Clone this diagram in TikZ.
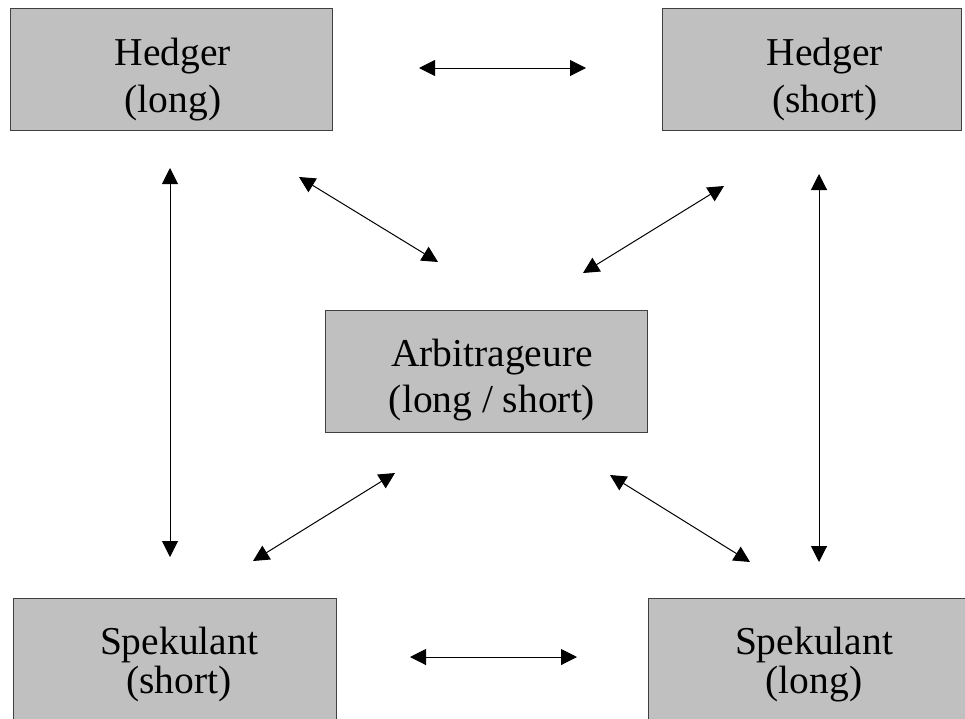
\documentclass[tikz,border=0pt]{standalone}
\usepackage{fontspec}
\setmainfont{Liberation Serif}
\usetikzlibrary{arrows.meta}
\definecolor{boxfill}{HTML}{C0C0C0}
\definecolor{boxline}{HTML}{404040}
\begin{document}
\begin{tikzpicture}[x=1pt,y=-1pt,
  box/.style={draw=boxline, fill=boxfill, line width=1pt, inner sep=0pt, minimum height=122pt},
  lbl/.style={align=center, inner sep=0pt, anchor=base, font=\fontsize{39.5}{47}\selectfont},
  lblb/.style={align=center, inner sep=0pt, anchor=base, font=\fontsize{39.5}{39}\selectfont},
  link/.style={line width=1pt, {Triangle[length=16pt,width=16pt]}-{Triangle[length=16pt,width=16pt]}}]
\useasboundingbox (0,0) rectangle (965,718);
\clip (0,0) rectangle (965,718);
% boxes
\node[box, minimum width=322pt] (hl) at (171,69.5) {};
\node[box, minimum width=299pt] (hs) at (811.5,69) {};
\node[box, minimum width=322pt] (ar) at (486,371) {};
\node[box, minimum width=323pt] (sl) at (174.5,659) {};
\node[box, minimum width=327pt] (sr) at (811.5,659) {};
% texts (anchor base = baseline of last line)
\node[lbl] (hlt) at (173,112) {Hedger\\(long)};
\node[lbl] (hst) at (825,112) {Hedger\\(short)};
\node[lbl,font=\fontsize{39.5}{46}\selectfont] (art) at (492,412) {Arbitrageure\\(long / short)};
\node[lblb] (slt) at (179,693) {Spekulant\\(short)};
\node[lblb] (srt) at (814,693) {Spekulant\\(long)};
% arrow endpoints
\coordinate (t1) at (419,68);  \coordinate (t2) at (586,68);
\coordinate (b1) at (410,657); \coordinate (b2) at (577,657);
\coordinate (l1) at (170,168); \coordinate (l2) at (170,557);
\coordinate (r1) at (819,174); \coordinate (r2) at (819,562);
\coordinate (d1) at (299,177); \coordinate (d2) at (438,262);
\coordinate (e1) at (724,186); \coordinate (e2) at (583,273);
\coordinate (f1) at (395,473); \coordinate (f2) at (253,561);
\coordinate (g1) at (610,475); \coordinate (g2) at (750,562);
\draw[link] (t1) -- (t2);
\draw[link] (b1) -- (b2);
\draw[link] (l1) -- (l2);
\draw[link] (r1) -- (r2);
\draw[link] (d1) -- (d2);
\draw[link] (e1) -- (e2);
\draw[link] (f1) -- (f2);
\draw[link] (g1) -- (g2);
\end{tikzpicture}
\end{document}
